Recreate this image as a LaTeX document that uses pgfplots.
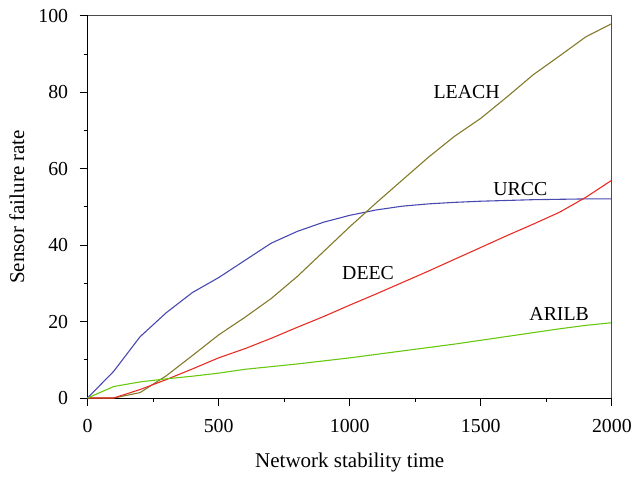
\documentclass[border=0pt]{standalone}
\usepackage{fontspec}
\setmainfont{Liberation Serif}
\usepackage{pgfplots}
\pgfplotsset{compat=1.18}
\definecolor{urcc}{RGB}{72,72,176}
\definecolor{leach}{RGB}{130,122,40}
\definecolor{deec}{RGB}{232,44,36}
\definecolor{arilb}{RGB}{104,200,16}
\begin{document}
\begin{tikzpicture}
\begin{axis}[
  name=ax,
  scale only axis, width=527bp, height=384bp,
  xmin=0, xmax=2000, ymin=0, ymax=100,
  xtick={0,500,...,2000}, ytick={0,20,...,100},
  minor x tick num=1, minor y tick num=1,
  axis x line*=bottom, axis y line*=left,
  tick align=outside, major tick length=8bp, minor tick length=4bp,
  tick style={black, line width=0.9bp},
  axis line style={black, line width=0.9bp},
  /pgf/number format/assume math mode=true,
  /pgf/number format/1000 sep={},
  ticklabel style={font=\fontsize{20}{24}\selectfont},
  xticklabel style={yshift=-10bp},
  yticklabel style={xshift=-8bp},
  label style={font=\fontsize{21.2}{25}\selectfont},
  xlabel={Network stability time},
  ylabel={Sensor failure rate},
  xlabel style={at={(axis description cs:0.5,-0.17)}, anchor=center},
  ylabel style={at={(axis description cs:-0.135,0.5)}, anchor=center},
  clip=false,
]
\addplot[urcc, line width=1.1bp] coordinates {
(0,0) (100,7) (200,16) (300,22.3) (400,27.6) (500,31.5) (600,36) (700,40.5) (800,43.6) (900,46) (1000,47.8) (1100,49.2) (1200,50.2) (1300,50.8) (1400,51.2) (1500,51.5) (1600,51.7) (1700,51.9) (1800,52) (1900,52.1) (2000,52.1)};
\addplot[leach, line width=1.1bp] coordinates {
(0,0) (100,0) (200,1.4) (300,5.8) (400,11.1) (500,16.5) (600,21.1) (700,26) (800,31.8) (900,38.3) (1000,44.8) (1100,51) (1200,57) (1300,63) (1400,68.5) (1500,73.2) (1600,78.8) (1700,84.6) (1800,89.5) (1900,94.5) (2000,98)};
\addplot[deec, line width=1.1bp] coordinates {
(0,0) (100,0) (200,2.2) (300,4.8) (400,7.6) (500,10.5) (600,12.9) (700,15.6) (800,18.5) (900,21.3) (1000,24.3) (1100,27.2) (1200,30.2) (1300,33.2) (1400,36.3) (1500,39.4) (1600,42.5) (1700,45.5) (1800,48.6) (1900,52.5) (2000,57)};
\addplot[arilb, line width=1.1bp] coordinates {
(0,0) (100,3) (200,4.2) (300,5) (400,5.7) (500,6.5) (600,7.5) (700,8.2) (800,8.9) (900,9.7) (1000,10.5) (1100,11.4) (1200,12.3) (1300,13.2) (1400,14.1) (1500,15.1) (1600,16.1) (1700,17.1) (1800,18.1) (1900,19) (2000,19.7)};
\draw[gray!60!black, line width=1.1bp] (rel axis cs:0,1) -- (rel axis cs:1,1) -- (rel axis cs:1,0);
\node[font=\fontsize{20}{24}\selectfont] at (axis cs:1446,80.2) {LEACH};
\node[font=\fontsize{20}{24}\selectfont] at (axis cs:1651,54.7) {URCC};
\node[font=\fontsize{20}{24}\selectfont] at (axis cs:1070,32.6) {DEEC};
\node[font=\fontsize{20}{24}\selectfont] at (axis cs:1799,22.1) {ARILB};
\end{axis}
\path ([xshift=-88bp,yshift=-79bp]ax.south west) rectangle ([xshift=20bp,yshift=16bp]ax.north east);
\end{tikzpicture}
\end{document}
